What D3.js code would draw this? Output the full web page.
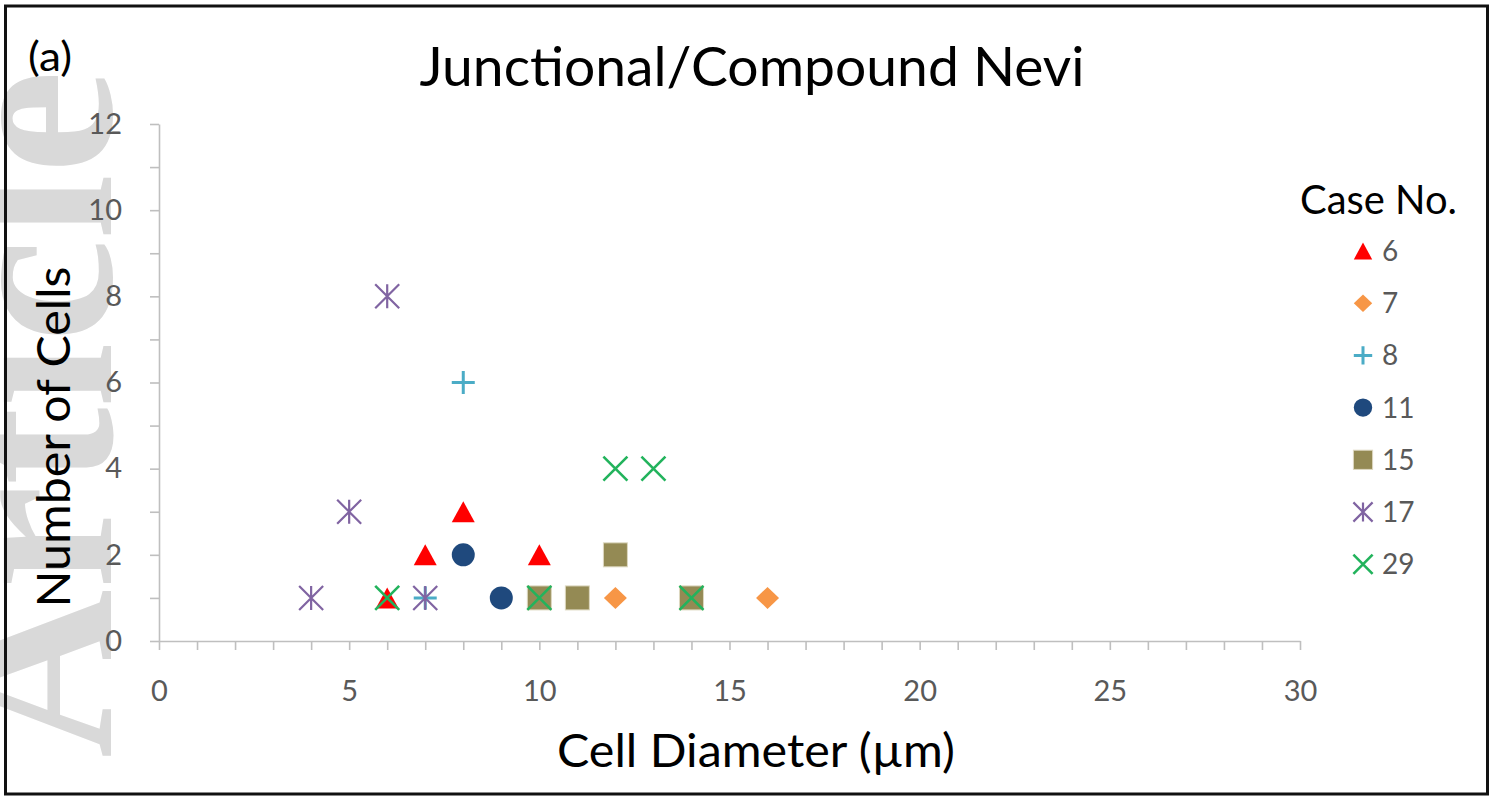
<!doctype html>
<html>
<head>
<meta charset="utf-8">
<title>Junctional/Compound Nevi</title>
<script src="https://cdnjs.cloudflare.com/ajax/libs/d3/7.8.5/d3.min.js"></script>
<style>
  body { margin: 0; background: #fff; }
  svg { display: block; font-family: Lato, "Open Sans", sans-serif; }
  .axis path, .axis line { stroke: #bfbfbf; stroke-width: 1.6; }
  .axis text { fill: #595959; font-size: 29px; font-family: Lato, sans-serif; }
  .wm { fill: #d9d9d9; font-family: "Liberation Serif", serif; font-weight: bold; }
</style>
</head>
<body>
<svg width="1499" height="796"></svg>
<script>
// data: [cell diameter, number of cells]
var caseNames = ["6", "7", "8", "11", "15", "17", "29"];
var case6  = [[6, 1], [7, 2], [8, 3], [10, 2]];
var case7  = [[12, 1], [16, 1]];
var case8  = [[8, 6], [7, 1]];
var case11 = [[8, 2], [9, 1]];
var case15 = [[10, 1], [11, 1], [12, 2], [14, 1]];
var case17 = [[4, 1], [5, 3], [6, 8], [7, 1]];
var case29 = [[6, 1], [10, 1], [12, 4], [13, 4], [14, 1]];
var xTickLabels = [0, 5, 10, 15, 20, 25, 30];
var yTickLabels = [0, 2, 4, 6, 8, 10, 12];

var series = [
  {name: caseNames[0], pts: case6,  shape: "triangle", color: "#ff0000"},
  {name: caseNames[1], pts: case7,  shape: "diamond",  color: "#f79646"},
  {name: caseNames[2], pts: case8,  shape: "plus",     color: "#4bacc6"},
  {name: caseNames[3], pts: case11, shape: "circle",   color: "#1f497d"},
  {name: caseNames[4], pts: case15, shape: "square",   color: "#948a54"},
  {name: caseNames[5], pts: case17, shape: "star",     color: "#8064a2"},
  {name: caseNames[6], pts: case29, shape: "cross",    color: "#22b35c"}
];

var svg = d3.select("svg");

// watermark behind everything (cut at the left edge as in the scan)
svg.append("text")
  .attr("class", "wm")
  .attr("transform", "translate(111,758) rotate(-90)")
  .attr("font-size", 234)
  .attr("textLength", 688)
  .attr("lengthAdjust", "spacingAndGlyphs")
  .text("Article");

var x = d3.scaleLinear().domain([0, 30]).range([159, 1300]);
var y = d3.scaleLinear().domain([0, 12]).range([641, 124]);

svg.append("g")
  .attr("class", "axis")
  .attr("transform", "translate(0,641)")
  .call(d3.axisBottom(x).tickValues(d3.range(0, 31)).tickSize(9).tickSizeOuter(0).tickPadding(30)
    .tickFormat(d => xTickLabels.indexOf(d) >= 0 ? d : ""));

svg.append("g")
  .attr("class", "axis")
  .attr("transform", "translate(159,0)")
  .call(d3.axisLeft(y).tickValues(d3.range(0, 13)).tickSize(9).tickSizeOuter(0).tickPadding(28)
    .tickFormat(d => yTickLabels.indexOf(d) >= 0 ? d : ""));

// marker drawing, s = scale
function drawMarker(g, shape, color, s) {
  if (shape == "triangle") {
    g.append("path").attr("d", "M0," + (-10.5 * s) + "L" + (11.5 * s) + "," + (10.5 * s) + "L" + (-11.5 * s) + "," + (10.5 * s) + "Z")
      .attr("fill", color);
  } else if (shape == "diamond") {
    g.append("path").attr("d", "M0," + (-11 * s) + "L" + (11.5 * s) + ",0L0," + (11 * s) + "L" + (-11.5 * s) + ",0Z")
      .attr("fill", color);
  } else if (shape == "circle") {
    g.append("circle").attr("r", 11.5 * s).attr("fill", color);
  } else if (shape == "square") {
    g.append("rect").attr("x", -12 * s).attr("y", -12 * s).attr("width", 24 * s).attr("height", 24 * s)
      .attr("fill", color).attr("stroke", "#ddd8c0").attr("stroke-width", 1);
  } else if (shape == "plus") {
    g.append("path").attr("d", "M" + (-11.5 * s) + ",0H" + (11.5 * s) + "M0," + (-11.5 * s) + "V" + (11.5 * s))
      .attr("stroke", color).attr("stroke-width", 3).attr("fill", "none");
  } else if (shape == "star") {
    var a = 12 * s;
    g.append("path").attr("d", "M0," + (-a) + "V" + a + "M" + (-a) + "," + (-a) + "L" + a + "," + a + "M" + a + "," + (-a) + "L" + (-a) + "," + a)
      .attr("stroke", color).attr("stroke-width", 2.2).attr("fill", "none");
  } else if (shape == "cross") {
    var b = 12 * s;
    g.append("path").attr("d", "M" + (-b) + "," + (-b) + "L" + b + "," + b + "M" + b + "," + (-b) + "L" + (-b) + "," + b)
      .attr("stroke", color).attr("stroke-width", 2.6).attr("fill", "none");
  }
}

series.forEach(function(sr) {
  var grp = svg.append("g").attr("class", "series");
  grp.selectAll("g").data(sr.pts).enter().append("g")
    .attr("transform", d => "translate(" + x(d[0]) + "," + y(d[1]) + ")")
    .each(function() { drawMarker(d3.select(this), sr.shape, sr.color, 1); });
});

// titles
svg.append("text").attr("x", 752).attr("y", 86).attr("text-anchor", "middle")
  .attr("font-size", 54).attr("textLength", 665).attr("lengthAdjust", "spacingAndGlyphs")
  .text("Junctional/Compound Nevi");

svg.append("text").attr("x", 756).attr("y", 767).attr("text-anchor", "middle")
  .attr("font-size", 47).attr("textLength", 398).attr("lengthAdjust", "spacingAndGlyphs")
  .text("Cell Diameter (µm)");

svg.append("text").attr("transform", "translate(70,437) rotate(-90)").attr("text-anchor", "middle")
  .attr("font-size", 47).attr("textLength", 341).attr("lengthAdjust", "spacingAndGlyphs")
  .text("Number of Cells");

svg.append("text").attr("x", 28).attr("y", 71).attr("font-size", 40)
  .attr("textLength", 44).attr("lengthAdjust", "spacingAndGlyphs").text("(a)");

// legend
svg.append("text").attr("x", 1300).attr("y", 214).attr("font-size", 40)
  .attr("textLength", 157).attr("lengthAdjust", "spacingAndGlyphs").text("Case No.");

var legend = svg.selectAll("g.leg").data(series).enter().append("g")
  .attr("class", "leg")
  .attr("transform", (d, i) => "translate(1363," + (251 + i * 52.2) + ")");
legend.each(function(d) { drawMarker(d3.select(this), d.shape, d.color, 0.8); });
legend.append("text").attr("x", 19).attr("dy", "0.36em").attr("font-size", 28).attr("fill", "#595959")
  .text(d => d.name);

// frame
svg.append("rect").attr("x", 5.5).attr("y", 6).attr("width", 1482).attr("height", 788)
  .attr("fill", "none").attr("stroke", "#111").attr("stroke-width", 3);
</script>
</body>
</html>
